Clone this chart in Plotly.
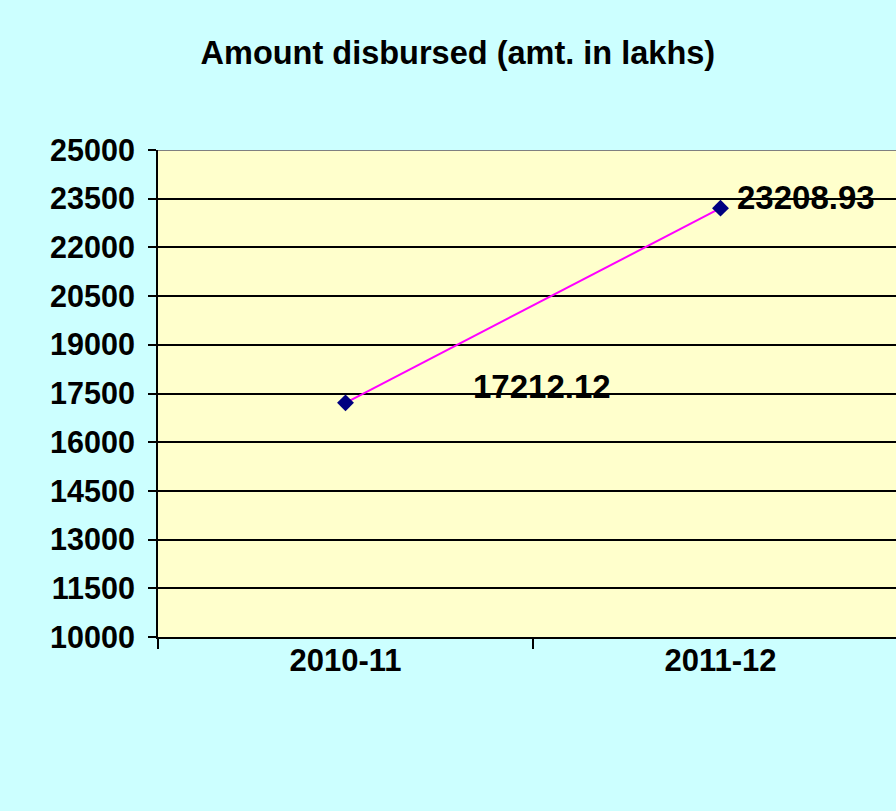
import plotly.graph_objects as go

categories = ["2010-11", "2011-12"]
amounts = [17212.12, 23208.93]
label_texts = ["17212.12", "23208.93"]
y_ticks = [10000, 11500, 13000, 14500, 16000, 17500, 19000, 20500, 22000, 23500, 25000]

FONT = "Liberation Sans, Arial, sans-serif"

fig = go.Figure()
fig.add_trace(go.Scatter(
    x=categories, y=amounts, mode="lines+markers",
    line=dict(color="#FF00FF", width=2),
    marker=dict(symbol="diamond", size=13, color="#000080", line=dict(width=0)),
    showlegend=False, hoverinfo="skip",
))

label_shifts = [(196, 16), (85, 11)]
for c, v, t, (dx, dy) in zip(categories, amounts, label_texts, label_shifts):
    fig.add_annotation(x=c, y=v, xref="x", yref="y", text="<b>%s</b>" % t,
                       showarrow=False, xshift=dx, yshift=dy,
                       font=dict(family=FONT, size=33, color="black"))

fig.add_shape(type="line", xref="paper", yref="y", x0=0, x1=1, y0=25000, y1=25000,
              line=dict(color="#808080", width=2), layer="above")

fig.update_layout(
    width=896, height=811,
    margin=dict(l=158, r=0, t=150, b=174),
    paper_bgcolor="#CCFFFF", plot_bgcolor="#FFFFCC",
    title=dict(text="<b>Amount disbursed (amt. in lakhs)</b>", x=0.511, xanchor="center",
               y=1 - 53 / 811, yanchor="middle", font=dict(family=FONT, size=32.5, color="black")),
    font=dict(family=FONT, color="black"),
)
fig.update_xaxes(
    type="category", categoryorder="array", categoryarray=categories,
    range=[-0.5, 1.468], tickson="boundaries",
    ticks="outside", ticklen=10, tickwidth=2, tickcolor="black",
    showline=True, linecolor="black", linewidth=2,
    showgrid=False, zeroline=False,
    tickfont=dict(family=FONT, size=31, color="black"),
    tickprefix="<b>", ticksuffix="</b>", ticklabelstandoff=-5,
)
fig.update_yaxes(
    range=[10000, 25000], tickmode="array", tickvals=y_ticks,
    ticktext=["<b>%d</b>" % v for v in y_ticks],
    ticks="outside", ticklen=8, tickwidth=2, tickcolor="black",
    showline=True, linecolor="black", linewidth=2,
    showgrid=True, gridcolor="black", gridwidth=2, zeroline=False,
    tickfont=dict(family=FONT, size=30.5, color="black"), ticklabelstandoff=7,
)

fig.write_html("out.html", config={"displayModeBar": False},
               post_script="document.body.style.margin='0';")
